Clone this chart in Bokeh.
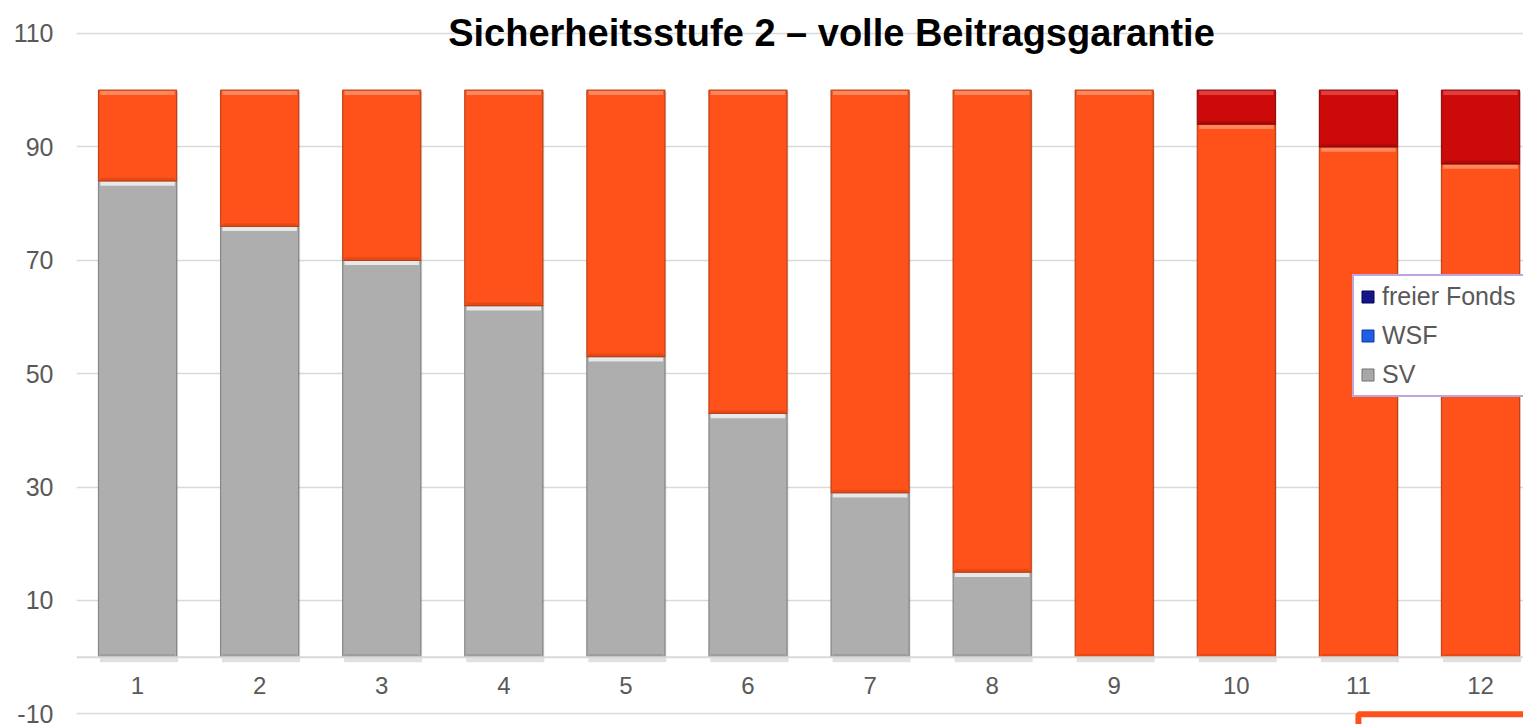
from bokeh.plotting import figure
from bokeh.models import (Range1d, FixedTicker, ColumnDataSource, Legend, LegendItem,
                          Label, BoxAnnotation, Span)
from bokeh.transform import dodge
from bokeh.core.properties import value
from bokeh.embed import file_html
from bokeh.resources import INLINE

# ---------------- data ----------------
categories = ["1", "2", "3", "4", "5", "6", "7", "8", "9", "10", "11", "12"]
sv = [84, 76, 70, 62, 53, 43, 29, 15, 0, 0, 0, 0]            # grey
garantie = [16, 24, 30, 38, 47, 57, 71, 85, 100, 94, 90, 87]  # orange
fonds_rot = [0, 0, 0, 0, 0, 0, 0, 0, 0, 6, 10, 13]            # red
y_ticks = [-10, 10, 30, 50, 70, 90, 110]
y_tick_labels = ["-10", "10", "30", "50", "70", "90", "110"]
legend_labels = ["freier Fonds", "WSF", "SV"]
title_text = "Sicherheitsstufe 2 \u2013 volle Beitragsgarantie"

FONT = "Liberation Sans"
TXT = "#595959"

x = list(range(1, len(categories) + 1))

p = figure(width=1523, height=724,
           x_range=Range1d(0.5, 12.352), y_range=Range1d(-11.87, 115.82),
           output_backend="svg", toolbar_location=None, x_axis_location=None,
           min_border_left=76, min_border_right=0, min_border_top=0, min_border_bottom=0)
p.outline_line_color = None
p.background_fill_color = "white"

# y axis
p.yaxis.ticker = FixedTicker(ticks=y_ticks)
p.yaxis.major_label_overrides = {t: s for t, s in zip(y_ticks, y_tick_labels)}
p.yaxis.axis_line_color = None
p.yaxis.major_tick_line_color = None
p.yaxis.minor_tick_line_color = None
p.yaxis.major_tick_out = 0
p.yaxis.major_label_standoff = 23
p.yaxis.major_label_text_font = FONT
p.yaxis.major_label_text_font_size = "25px"
p.yaxis.major_label_text_line_height = 0.85
p.yaxis.major_label_text_color = TXT

p.xgrid.grid_line_color = None
p.ygrid.ticker = FixedTicker(ticks=y_ticks)
p.ygrid.grid_line_color = "#D9D9D9"
p.ygrid.grid_line_width = 1.5
p.add_layout(Span(location=0, dimension="width", line_color="#D9D9D9", line_width=2))

# ---------------- bars ----------------
series = [
    (sv, "#AEAEAE", "#F2F2F2", "#7F7F7F"),
    (garantie, "#FF521B", "#FF9066", "#B83A0E"),
    (fonds_rot, "#CC0A0A", "#E84545", "#850606"),
]
BW = 0.64
totals = [sum(v) for v in zip(sv, garantie, fonds_rot)]

# soft shadow
shadow_src = ColumnDataSource(dict(x=x, top=totals, bottom=[0] * len(x)))
p.vbar(x=dodge("x", 0.012), top=dodge("top", -0.3), bottom=dodge("bottom", -0.9),
       width=BW, source=shadow_src, fill_color="black", fill_alpha=0.12, line_color=None)

base = [0] * len(x)
for vals, col, hi, dark in series:
    xs, bots, tops = [], [], []
    for i, v in enumerate(vals):
        if v > 0:
            xs.append(x[i]); bots.append(base[i]); tops.append(base[i] + v)
    base = [b + v for b, v in zip(base, vals)]
    src = ColumnDataSource(dict(x=xs, bottom=bots, top=tops))
    p.vbar(x="x", top="top", bottom="bottom", width=BW, source=src,
           fill_color=col, line_color=dark, line_width=1.2, line_alpha=0.9)
    # top highlight band
    p.vbar(x="x", top=dodge("top", -0.12), bottom=dodge("top", -0.85), width=BW - 0.03,
           source=src, fill_color=hi, fill_alpha=0.85, line_color=None)
    # bottom darker band
    p.vbar(x="x", top=dodge("bottom", 0.55), bottom=dodge("bottom", 0.1), width=BW - 0.03,
           source=src, fill_color=dark, fill_alpha=0.35, line_color=None)

# category labels under the zero line
p.text(x=x, y=[0] * len(x), text=categories, y_offset=28,
       text_align="center", text_baseline="middle",
       text_font=value(FONT), text_font_size="24px", text_color=TXT)

# ---------------- legend ----------------
leg_cols = [("#14148C", "#05054F"), ("#1F5FE6", "#0F3A9A"), ("#A8A8A8", "#707070")]
items = []
for lab, (fc, lc) in zip(legend_labels, leg_cols):
    r = p.vbar(x=[float("nan")], top=[0.0], width=0.5, fill_color=fc, line_color=lc, line_width=1)
    items.append(LegendItem(label=lab, renderers=[r]))
legend = Legend(items=items, location=(1276, 327), orientation="vertical",
                border_line_color="#7B4BC0", border_line_width=2,
                background_fill_color="white", background_fill_alpha=1,
                padding=6, spacing=10, margin=0,
                glyph_width=15, glyph_height=15, label_height=26, label_standoff=7,
                label_width=170,
                label_text_font=FONT, label_text_font_size="25px", label_text_color=TXT)
p.add_layout(legend, "center")

# ---------------- title ----------------
p.add_layout(Label(x=6.684, y=110, text=title_text, text_align="center",
                   text_baseline="alphabetic", text_font=FONT, text_font_size="38px",
                   text_font_style="bold", text_color="black"))

# partially visible orange frame bottom right
p.add_layout(BoxAnnotation(left=11.0, right=13.5, top=-10.05, bottom=-20,
                           fill_alpha=0, line_color="#FF4F1A", line_alpha=1, line_width=6))

open("out.html", "w").write(file_html(p, INLINE))
